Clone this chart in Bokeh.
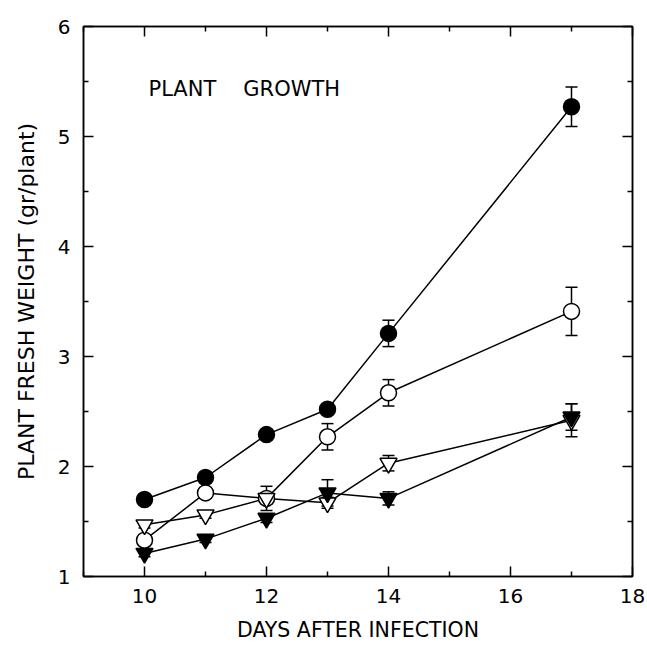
from bokeh.plotting import figure
from bokeh.models import (ColumnDataSource, FixedTicker, LinearAxis, Range1d,
                          Whisker, TeeHead, Label)
from bokeh.embed import file_html
from bokeh.resources import INLINE

# ---------------- data ----------------
days = [10, 11, 12, 13, 14, 17]

filled_circle = [1.70, 1.90, 2.29, 2.52, 3.21, 5.27]
filled_circle_err = [0.03, 0.03, 0.03, 0.04, 0.12, 0.18]

open_circle = [1.33, 1.76, 1.71, 2.27, 2.67, 3.41]
open_circle_err = [0.04, 0.04, 0.05, 0.12, 0.12, 0.22]

open_triangle = [1.47, 1.56, 1.71, 1.67, 2.03, 2.42]
open_triangle_err = [0.03, 0.03, 0.11, 0.05, 0.07, 0.15]

filled_triangle = [1.21, 1.34, 1.53, 1.76, 1.71, 2.45]
filled_triangle_err = [0.03, 0.03, 0.04, 0.12, 0.06, 0.12]

x_major = [10, 12, 14, 16, 18]
x_minor = [9, 11, 13, 15, 17]
y_major = [1, 2, 3, 4, 5, 6]
y_minor = [1.5, 2.5, 3.5, 4.5, 5.5]

title_words = ["PLANT", "GROWTH"]
x_label = "DAYS AFTER INFECTION"
y_label = "PLANT FRESH WEIGHT (gr/plant)"

FONT = "DejaVu Sans"

p = figure(width=647, height=645, output_backend="svg", toolbar_location=None,
           x_range=Range1d(9, 18), y_range=Range1d(1, 6),
           min_border_left=83, min_border_right=15, min_border_top=26,
           min_border_bottom=69)
p.grid.visible = False
p.outline_line_color = "black"
p.outline_line_width = 1.5
p.background_fill_color = "white"
p.border_fill_color = "white"

xt = FixedTicker(ticks=x_major, minor_ticks=x_minor)
yt = FixedTicker(ticks=y_major, minor_ticks=y_minor)


def style_axis(ax, labels=True):
    ax.axis_line_width = 1.5
    ax.axis_line_color = "black"
    ax.major_tick_in = 10
    ax.major_tick_out = 0
    ax.minor_tick_in = 5
    ax.minor_tick_out = 0
    ax.major_tick_line_width = 1.5
    ax.minor_tick_line_width = 1.5
    ax.major_label_text_font = FONT
    ax.major_label_text_font_size = "20px"
    ax.major_label_text_color = "black"
    ax.axis_label_text_font = FONT
    ax.axis_label_text_font_size = "20.5px"
    ax.axis_label_text_font_style = "normal"
    ax.axis_label_text_color = "black"
    if not labels:
        ax.major_label_text_alpha = 0
        ax.major_label_text_font_size = "1px"


p.xaxis.ticker = xt
p.yaxis.ticker = yt
style_axis(p.xaxis[0])
style_axis(p.yaxis[0])
p.xaxis.axis_label = x_label
p.yaxis.axis_label = y_label
p.yaxis.axis_label_text_font_size = "22px"
p.xaxis.major_label_standoff = 12
p.xaxis.axis_label_standoff = 12
p.yaxis.major_label_standoff = 13
p.yaxis.axis_label_standoff = 16

top = LinearAxis(ticker=xt)
style_axis(top, labels=False)
p.add_layout(top, "above")
right = LinearAxis(ticker=yt)
style_axis(right, labels=False)
p.add_layout(right, "right")

series = [
    (filled_circle, filled_circle_err, "circle", "black"),
    (open_circle, open_circle_err, "circle", "white"),
    (open_triangle, open_triangle_err, "inverted_triangle", "white"),
    (filled_triangle, filled_triangle_err, "inverted_triangle", "black"),
]

sources = []
for vals, errs, marker, fill in series:
    src = ColumnDataSource(dict(
        x=days, y=vals,
        upper=[v + e for v, e in zip(vals, errs)],
        lower=[v - e for v, e in zip(vals, errs)],
    ))
    sources.append(src)
    p.line("x", "y", source=src, line_color="black", line_width=1.5)

for src in sources:
    w = Whisker(base="x", upper="upper", lower="lower", source=src,
                line_color="black", line_width=1.5,
                upper_head=TeeHead(size=12, line_color="black", line_width=1.5),
                lower_head=TeeHead(size=12, line_color="black", line_width=1.5))
    p.add_layout(w)

for src, (vals, errs, marker, fill) in zip(sources, series):
    size = 16 if marker == "circle" else 17
    p.scatter("x", "y", source=src, marker=marker, size=size,
              fill_color=fill, line_color="black", line_width=1.5)

for word, xpos in zip(title_words, [10.066, 11.62]):
    p.add_layout(Label(x=xpos, y=5.436, text=word, text_font=FONT,
                       text_font_size="21px", text_color="black",
                       text_baseline="alphabetic", text_align="left"))

open("out.html", "w").write(file_html(p, INLINE))
